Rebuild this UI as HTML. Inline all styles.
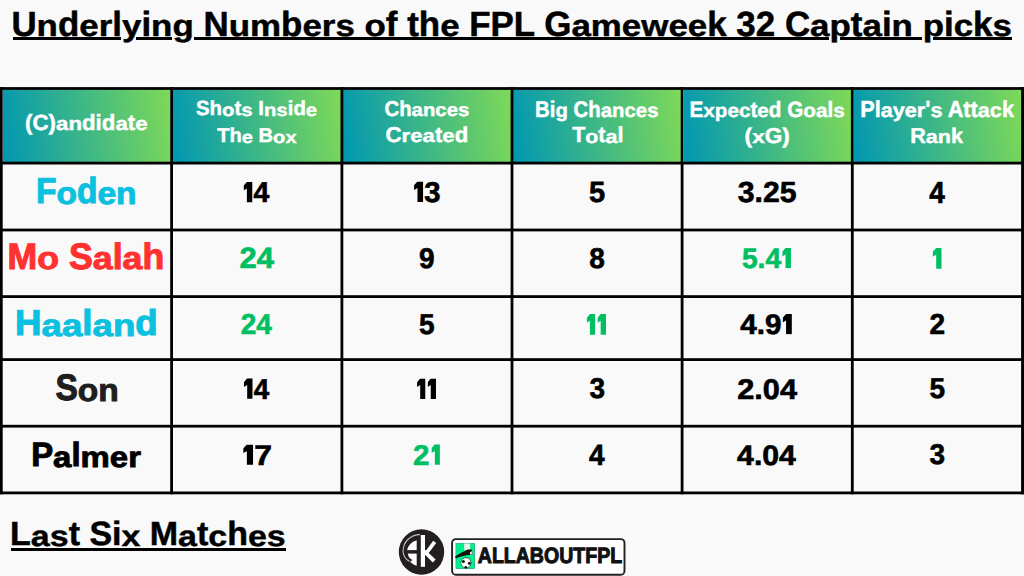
<!DOCTYPE html>
<html><head><meta charset="utf-8">
<style>
html,body{margin:0;padding:0;}
body{width:1024px;height:576px;overflow:hidden;background:#f9f9f9;position:relative;font-family:"Liberation Sans",sans-serif;font-weight:bold;}
.t{position:absolute;white-space:nowrap;line-height:1.2;transform-origin:0 0;text-rendering:geometricPrecision;}
.ul{-webkit-text-stroke:0.5px currentColor;}
.ht{-webkit-text-stroke:0.45px currentColor;}
.nm{-webkit-text-stroke:1px currentColor;}
.nu{-webkit-text-stroke:0.6px currentColor;}
.lg{-webkit-text-stroke:1.1px currentColor;}
.xh{display:inline-block;transform:scaleY(0.86);transform-origin:50% 0.9465em;}
.one{display:inline-block;width:0.31em;height:0.72em;margin:0 0.04em 0 0.05em;vertical-align:baseline;}
.hl{position:absolute;left:0;width:1024px;background:#000;}
.vl{position:absolute;top:87px;width:3px;height:407px;background:#000;}
.hc{position:absolute;background:linear-gradient(82deg,#0097b2,#7ed957);}
</style></head><body>
<div class="hc" style="left:2.7px;width:167.5px;top:89.5px;height:72.2px"></div>
<div class="hc" style="left:173.0px;width:167.5px;top:89.5px;height:72.2px"></div>
<div class="hc" style="left:343.3px;width:167.3px;top:89.5px;height:72.2px"></div>
<div class="hc" style="left:513.4px;width:167.3px;top:89.5px;height:72.2px"></div>
<div class="hc" style="left:683.5px;width:167.4px;top:89.5px;height:72.2px"></div>
<div class="hc" style="left:853.7px;width:167.4px;top:89.5px;height:72.2px"></div>
<svg style="position:absolute;left:0;top:0" width="1024" height="576" viewBox="0 0 1024 576"><rect x="0" y="87.10" width="1024" height="2.8" fill="#000"/><rect x="0" y="161.70" width="1024" height="2.8" fill="#000"/><rect x="0" y="228.60" width="1024" height="2.8" fill="#000"/><rect x="0" y="295.20" width="1024" height="2.8" fill="#000"/><rect x="0" y="358.20" width="1024" height="2.8" fill="#000"/><rect x="0" y="424.80" width="1024" height="2.8" fill="#000"/><rect x="0" y="491.50" width="1024" height="2.8" fill="#000"/><rect x="-1.00" y="87.10" width="3.70" height="407.20" fill="#000"/><rect x="170.20" y="87.10" width="2.80" height="407.20" fill="#000"/><rect x="340.50" y="87.10" width="2.80" height="407.20" fill="#000"/><rect x="510.60" y="87.10" width="2.80" height="407.20" fill="#000"/><rect x="680.70" y="87.10" width="2.80" height="407.20" fill="#000"/><rect x="850.90" y="87.10" width="2.80" height="407.20" fill="#000"/><rect x="1021.10" y="87.10" width="3.90" height="407.20" fill="#000"/></svg>
<svg style="position:absolute;left:390px;top:525px" width="240" height="51" viewBox="390 525 240 51">
<circle cx="421.5" cy="552" r="22.7" fill="#231f20"/>
<clipPath id="akc"><rect x="400" y="530" width="16.7" height="40"/></clipPath>
<circle cx="419.8" cy="553" r="13" fill="#fff" clip-path="url(#akc)"/>
<rect x="404" y="550.1" width="13" height="3.5" fill="#231f20"/>
<path d="M406.6 553.2 C406.9 556.5 408.3 559.3 411.6 560.8" fill="none" stroke="#231f20" stroke-width="2.2"/>
<path d="M420.1 534.6 C410 534.8 403.1 542 403.1 551 C403.1 555.5 405.2 559 409.2 561.2" fill="none" stroke="#bdbdbd" stroke-width="1.1"/>
<rect x="420.8" y="535" width="4.2" height="31.8" fill="#fff"/>
<path d="M424.8 552.3 L433.2 540.8 L436.2 543.1 L427.6 554.6 Z" fill="#fff"/>
<path d="M425.2 549.8 L435.6 559.6 L432.8 562.4 L423.8 553.6 Z" fill="#fff"/>
<rect x="452.1" y="539.1" width="172.4" height="35.6" rx="3.8" fill="#fff" stroke="#231f20" stroke-width="1.9"/>
<rect x="455.9" y="543.3" width="18.9" height="25.4" fill="#00f08c" stroke="#1d6b4a" stroke-width="0.4"/>
<rect x="464.2" y="543.5" width="5.9" height="6.6" fill="#eee"/>
<path d="M455.0 556.6 C458 554.2 462 552.2 467.8 549.4 L471.8 549.6 C472.6 551.5 472.8 553.5 472.3 554.8 L467.5 555.0 C463 555.8 459 556.9 456 558.4 Z" fill="#111"/>
<path d="M469.8 552.2 L472.3 551.0 L472.5 554.3 L470.2 554.7 Z" fill="#ddd"/>
<circle cx="466" cy="562.8" r="5.1" fill="#fff" stroke="#222" stroke-width="0.6"/>
<circle cx="463.4" cy="561.6" r="1.5" fill="#111"/>
<circle cx="469.4" cy="563.3" r="1.5" fill="#111"/>
<circle cx="465.8" cy="567.3" r="1.3" fill="#111"/>
</svg>
<div style="position:absolute;left:12.80px;top:37.30px;width:108.20px;height:3.00px;background:#000"></div>
<div style="position:absolute;left:136.00px;top:37.30px;width:36.00px;height:3.00px;background:#000"></div>
<div style="position:absolute;left:194.00px;top:37.30px;width:635.00px;height:3.00px;background:#000"></div>
<div style="position:absolute;left:840.00px;top:37.30px;width:82.00px;height:3.00px;background:#000"></div>
<div style="position:absolute;left:933.00px;top:37.30px;width:79.40px;height:3.00px;background:#000"></div>
<div style="position:absolute;left:10.80px;top:548.20px;width:275.60px;height:3.00px;background:#000"></div>
<div class="t ul" id="title" style="left:13px;top:3px;font-size:35px;color:#000;transform:translate(-1.602px,1.204px) scale(0.9973,0.9994);">U<span class="xh">n</span>d<span class="xh">e</span><span class="xh">r</span>l<span class="xh">y</span>i<span class="xh">n</span><span class="xh">g</span> N<span class="xh">u</span><span class="xh">m</span>b<span class="xh">e</span><span class="xh">r</span><span class="xh">s</span> <span class="xh">o</span>f th<span class="xh">e</span> FPL G<span class="xh">a</span><span class="xh">m</span><span class="xh">e</span><span class="xh">w</span><span class="xh">e</span><span class="xh">e</span>k 32 C<span class="xh">a</span><span class="xh">p</span>t<span class="xh">a</span>i<span class="xh">n</span> <span class="xh">p</span>i<span class="xh">c</span>k<span class="xh">s</span></div>
<div class="t ul" id="last" style="left:12px;top:515px;font-size:35px;color:#000;transform:translate(-1.921px,-0.194px) scale(0.9705,0.9591);text-underline-offset:2.7px;">L<span class="xh">a</span><span class="xh">s</span>t Si<span class="xh">x</span> M<span class="xh">a</span>t<span class="xh">c</span>h<span class="xh">e</span><span class="xh">s</span></div>
<div class="t ht" id="h0a" style="left:3px;top:108px;font-size:21px;width:168px;text-align:center;color:#fff;transform:translate(-5.686px,1.674px) scale(1.0599,1.0440);">(C)<span class="xh">a</span><span class="xh">n</span>did<span class="xh">a</span>t<span class="xh">e</span></div>
<div class="t ht" id="h1a" style="left:173px;top:96px;font-size:21px;width:168px;text-align:center;color:#fff;transform:translate(2.014px,0.999px) scale(0.9708,0.9707);">Sh<span class="xh">o</span>t<span class="xh">s</span> I<span class="xh">n</span><span class="xh">s</span>id<span class="xh">e</span></div>
<div class="t ht" id="h1b" style="left:173px;top:122px;font-size:21px;width:168px;text-align:center;color:#fff;transform:translate(3.375px,2.357px) scale(0.9587,0.9501);">Th<span class="xh">e</span> B<span class="xh">o</span><span class="xh">x</span></div>
<div class="t ht" id="h2a" style="left:343px;top:96px;font-size:21px;width:168px;text-align:center;color:#fff;transform:translate(2.483px,0.213px) scale(0.9693,1.0209);">Ch<span class="xh">a</span><span class="xh">n</span><span class="xh">c</span><span class="xh">e</span><span class="xh">s</span></div>
<div class="t ht" id="h2b" style="left:343px;top:122px;font-size:21px;width:168px;text-align:center;color:#fff;transform:translate(-4.813px,0.757px) scale(1.0560,1.0231);">C<span class="xh">r</span><span class="xh">e</span><span class="xh">a</span>t<span class="xh">e</span>d</div>
<div class="t ht" id="h3a" style="left:514px;top:96px;font-size:21px;width:168px;text-align:center;color:#fff;transform:translate(1.328px,0.359px) scale(0.9701,1.0786);">Bi<span class="xh">g</span> Ch<span class="xh">a</span><span class="xh">n</span><span class="xh">c</span><span class="xh">e</span><span class="xh">s</span></div>
<div class="t ht" id="h3b" style="left:514px;top:122px;font-size:21px;width:168px;text-align:center;color:#fff;transform:translate(-2.047px,0.597px) scale(1.0219,1.0410);">T<span class="xh">o</span>t<span class="xh">a</span>l</div>
<div class="t ht" id="h4a" style="left:684px;top:96px;font-size:21px;width:168px;text-align:center;color:#fff;transform:translate(0.338px,1.299px) scale(0.9850,1.0494);">E<span class="xh">x</span><span class="xh">p</span><span class="xh">e</span><span class="xh">c</span>t<span class="xh">e</span>d G<span class="xh">o</span><span class="xh">a</span>l<span class="xh">s</span></div>
<div class="t ht" id="h4b" style="left:684px;top:122px;font-size:21px;width:168px;text-align:center;color:#fff;transform:translate(-7.253px,1.197px) scale(1.0774,1.0267);">(<span class="xh">x</span>G)</div>
<div class="t ht" id="h5a" style="left:854px;top:96px;font-size:21px;width:168px;text-align:center;color:#fff;transform:translate(-3.565px,-0.388px) scale(1.0314,1.1035);">Pl<span class="xh">a</span><span class="xh">y</span><span class="xh">e</span><span class="xh">r</span>'<span class="xh">s</span> Att<span class="xh">a</span><span class="xh">c</span>k</div>
<div class="t ht" id="h5b" style="left:854px;top:122px;font-size:21px;width:168px;text-align:center;color:#fff;transform:translate(-3.684px,1.234px) scale(1.0269,1.0265);">R<span class="xh">a</span><span class="xh">n</span>k</div>
<div class="t nm" id="n0" style="left:3px;top:171px;font-size:34px;width:168px;text-align:center;color:#0cc0df;transform:translate(0.362px,-0.501px) scale(0.9871,1.0614);">F<span class="xh">o</span>d<span class="xh">e</span><span class="xh">n</span></div>
<div class="t nm" id="n1" style="left:3px;top:238px;font-size:34px;width:168px;text-align:center;color:#ff3131;transform:translate(-5.181px,-2.115px) scale(1.0485,1.0781);">M<span class="xh">o</span> S<span class="xh">a</span>l<span class="xh">a</span>h</div>
<div class="t nm" id="n2" style="left:3px;top:304px;font-size:34px;width:168px;text-align:center;color:#0cc0df;transform:translate(-7.080px,-1.424px) scale(1.0769,1.0579);">H<span class="xh">a</span><span class="xh">a</span>l<span class="xh">a</span><span class="xh">n</span>d</div>
<div class="t nm" id="n3" style="left:3px;top:367px;font-size:34px;width:168px;text-align:center;color:#1e1e1e;transform:translate(1.427px,-0.149px) scale(0.9850,1.0808);">S<span class="xh">o</span><span class="xh">n</span></div>
<div class="t nm" id="n4" style="left:3px;top:434px;font-size:34px;width:168px;text-align:center;color:#000;transform:translate(1.765px,1.668px) scale(0.9678,0.9894);">P<span class="xh">a</span>l<span class="xh">m</span><span class="xh">e</span><span class="xh">r</span></div>
<div class="t nu" id="u00" style="left:173px;top:175px;font-size:28px;width:168px;text-align:center;color:#000;transform:translate(-2.570px,0.826px) scale(1.0158,1.0243);"><svg class="one" viewBox="0 0 100 240" preserveAspectRatio="none"><path d="M37.5 0 H100 V240 H37.5 V77 L0 100 V45 Z" fill="currentColor"/></svg>4</div>
<div class="t nu" id="u01" style="left:343px;top:175px;font-size:28px;width:168px;text-align:center;color:#000;transform:translate(-4.406px,0.238px) scale(1.0480,1.0251);"><svg class="one" viewBox="0 0 100 240" preserveAspectRatio="none"><path d="M37.5 0 H100 V240 H37.5 V77 L0 100 V45 Z" fill="currentColor"/></svg>3</div>
<div class="t nu" id="u02" style="left:514px;top:175px;font-size:28px;width:168px;text-align:center;color:#000;transform:translate(-4.274px,0.186px) scale(1.0405,1.0433);">5</div>
<div class="t nu" id="u03" style="left:684px;top:175px;font-size:28px;width:168px;text-align:center;color:#000;transform:translate(-7.425px,0.387px) scale(1.0791,1.0390);">3.25</div>
<div class="t nu" id="u04" style="left:854px;top:175px;font-size:28px;width:168px;text-align:center;color:#000;transform:translate(-0.838px,-0.183px) scale(1.0000,1.0861);">4</div>
<div class="t nu" id="u10" style="left:173px;top:242px;font-size:28px;width:168px;text-align:center;color:#00bf63;transform:translate(-9.298px,-0.942px) scale(1.1068,1.0531);">24</div>
<div class="t nu" id="u11" style="left:343px;top:242px;font-size:28px;width:168px;text-align:center;color:#000;transform:translate(-0.114px,-0.180px) scale(1.0000,1.0154);">9</div>
<div class="t nu" id="u12" style="left:514px;top:242px;font-size:28px;width:168px;text-align:center;color:#000;transform:translate(-1.061px,-0.162px) scale(1.0000,1.0142);">8</div>
<div class="t nu" id="u13" style="left:684px;top:242px;font-size:28px;width:168px;text-align:center;color:#00bf63;transform:translate(-1.443px,-0.086px) scale(1.0069,1.0115);">5.4<svg class="one" viewBox="0 0 100 240" preserveAspectRatio="none"><path d="M37.5 0 H100 V240 H37.5 V77 L0 100 V45 Z" fill="currentColor"/></svg></div>
<div class="t nu" id="u14" style="left:854px;top:242px;font-size:28px;width:168px;text-align:center;color:#00bf63;transform:translate(-10.800px,-0.266px) scale(1.1170,1.0417);"><svg class="one" viewBox="0 0 100 240" preserveAspectRatio="none"><path d="M37.5 0 H100 V240 H37.5 V77 L0 100 V45 Z" fill="currentColor"/></svg></div>
<div class="t nu" id="u20" style="left:173px;top:308px;font-size:28px;width:168px;text-align:center;color:#00bf63;transform:translate(-0.692px,-0.301px) scale(1.0000,1.0284);">24</div>
<div class="t nu" id="u21" style="left:343px;top:308px;font-size:28px;width:168px;text-align:center;color:#000;transform:translate(-0.104px,-0.475px) scale(1.0000,1.0259);">5</div>
<div class="t nu" id="u22" style="left:514px;top:308px;font-size:28px;width:168px;text-align:center;color:#00bf63;transform:translate(0.296px,-0.266px) scale(0.9787,1.0417);"><svg class="one" viewBox="0 0 100 240" preserveAspectRatio="none"><path d="M37.5 0 H100 V240 H37.5 V77 L0 100 V45 Z" fill="currentColor"/></svg><svg class="one" viewBox="0 0 100 240" preserveAspectRatio="none"><path d="M37.5 0 H100 V240 H37.5 V77 L0 100 V45 Z" fill="currentColor"/></svg></div>
<div class="t nu" id="u23" style="left:684px;top:308px;font-size:28px;width:168px;text-align:center;color:#000;transform:translate(-6.308px,-0.089px) scale(1.0598,1.0120);">4.9<svg class="one" viewBox="0 0 100 240" preserveAspectRatio="none"><path d="M37.5 0 H100 V240 H37.5 V77 L0 100 V45 Z" fill="currentColor"/></svg></div>
<div class="t nu" id="u24" style="left:854px;top:308px;font-size:28px;width:168px;text-align:center;color:#000;transform:translate(-0.594px,-0.326px) scale(1.0000,1.0294);">2</div>
<div class="t nu" id="u30" style="left:173px;top:371px;font-size:28px;width:168px;text-align:center;color:#000;transform:translate(-0.489px,1.083px) scale(0.9923,1.0281);"><svg class="one" viewBox="0 0 100 240" preserveAspectRatio="none"><path d="M37.5 0 H100 V240 H37.5 V77 L0 100 V45 Z" fill="currentColor"/></svg>4</div>
<div class="t nu" id="u31" style="left:343px;top:371px;font-size:28px;width:168px;text-align:center;color:#000;transform:translate(2.891px,1.206px) scale(0.9616,1.0305);"><svg class="one" viewBox="0 0 100 240" preserveAspectRatio="none"><path d="M37.5 0 H100 V240 H37.5 V77 L0 100 V45 Z" fill="currentColor"/></svg><svg class="one" viewBox="0 0 100 240" preserveAspectRatio="none"><path d="M37.5 0 H100 V240 H37.5 V77 L0 100 V45 Z" fill="currentColor"/></svg></div>
<div class="t nu" id="u32" style="left:514px;top:371px;font-size:28px;width:168px;text-align:center;color:#000;transform:translate(-0.780px,1.101px) scale(1.0000,1.0143);">3</div>
<div class="t nu" id="u33" style="left:684px;top:371px;font-size:28px;width:168px;text-align:center;color:#000;transform:translate(-9.145px,1.125px) scale(1.0979,1.0160);">2.04</div>
<div class="t nu" id="u34" style="left:854px;top:371px;font-size:28px;width:168px;text-align:center;color:#000;transform:translate(-0.584px,0.793px) scale(1.0000,1.0259);">5</div>
<div class="t nu" id="u40" style="left:173px;top:438px;font-size:28px;width:168px;text-align:center;color:#000;transform:translate(-12.137px,0.535px) scale(1.1431,1.0104);"><svg class="one" viewBox="0 0 100 240" preserveAspectRatio="none"><path d="M37.5 0 H100 V240 H37.5 V77 L0 100 V45 Z" fill="currentColor"/></svg>7</div>
<div class="t nu" id="u41" style="left:343px;top:438px;font-size:28px;width:168px;text-align:center;color:#00bf63;transform:translate(-4.510px,0.141px) scale(1.0561,1.0258);">2<svg class="one" viewBox="0 0 100 240" preserveAspectRatio="none"><path d="M37.5 0 H100 V240 H37.5 V77 L0 100 V45 Z" fill="currentColor"/></svg></div>
<div class="t nu" id="u42" style="left:514px;top:438px;font-size:28px;width:168px;text-align:center;color:#000;transform:translate(-1.110px,-0.327px) scale(1.0000,1.0431);">4</div>
<div class="t nu" id="u43" style="left:684px;top:438px;font-size:28px;width:168px;text-align:center;color:#000;transform:translate(-8.159px,0.193px) scale(1.0790,1.0131);">4.04</div>
<div class="t nu" id="u44" style="left:854px;top:438px;font-size:28px;width:168px;text-align:center;color:#000;transform:translate(-0.589px,0.050px) scale(1.0000,1.0162);">3</div>
<div class="t lg" id="logo" style="left:478px;top:540px;font-size:24px;color:#111;transform:translate(-0.200px,3.856px) scale(0.8138,0.9176);">ALLABOUTFPL</div>
</body></html>
